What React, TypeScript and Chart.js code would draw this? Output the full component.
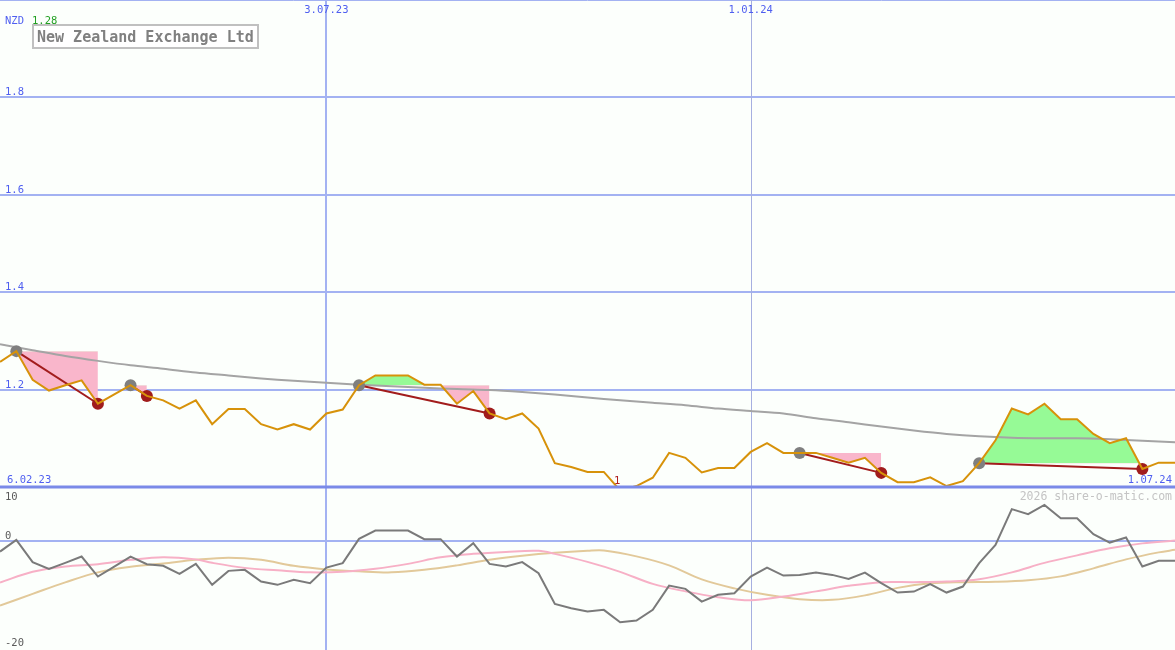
import React, { useEffect, useRef } from 'react';
import { Chart, registerables } from 'chart.js';

Chart.register(...registerables);

// ---------- data (weekly, index 0 = first week shown) ----------
const price = [
  1.257, 1.279, 1.220, 1.198, 1.209, 1.219, 1.171, 1.190, 1.209, 1.187,
  1.178, 1.161, 1.178, 1.129, 1.160, 1.160, 1.129, 1.118, 1.129, 1.118,
  1.151, 1.159, 1.209, 1.229, 1.229, 1.229, 1.210, 1.210, 1.171, 1.197,
  1.151, 1.139, 1.151, 1.120, 1.049, 1.041, 1.031, 1.031, 0.993, 1.002,
  1.019, 1.070, 1.060, 1.030, 1.039, 1.039, 1.072, 1.090, 1.070, 1.070,
  1.070, 1.060, 1.050, 1.060, 1.029, 1.010, 1.010, 1.020, 1.002, 1.012,
  1.049, 1.096, 1.161, 1.149, 1.171, 1.139, 1.139, 1.109, 1.090, 1.100,
  1.037, 1.050, 1.050,
];

const longMaIdx = [0, 2, 4, 6, 8, 10, 12, 14, 16, 18, 20, 22, 24, 26, 28, 30, 32, 34, 36, 38, 40, 42, 44, 46, 48, 50, 52, 54, 56, 58, 60, 62, 64, 66, 68, 70, 72];
const longMaVal = [1.293, 1.281, 1.269, 1.259, 1.250, 1.243, 1.235, 1.229, 1.223, 1.218, 1.214, 1.210, 1.207, 1.204, 1.201, 1.199, 1.195, 1.190, 1.184, 1.178, 1.173, 1.168, 1.161, 1.156, 1.151, 1.141, 1.133, 1.124, 1.116, 1.109, 1.104, 1.101, 1.100, 1.100, 1.098, 1.095, 1.092];

const trendStarts = [1, 8, 22, 49, 60];
const trendEnds = [6, 9, 30, 54, 70];

const oscillator = [
  -2.0, 0.19, -3.98, -5.23, -4.11, -2.93, -6.67, -4.80, -2.93, -4.36,
  -4.67, -6.17, -4.30, -8.22, -5.61, -5.42, -7.61, -8.22, -7.29, -7.91,
  -4.99, -4.17, 0.37, 1.93, 1.93, 1.93, 0.32, 0.32, -2.93, -0.43,
  -4.30, -4.80, -3.98, -6.04, -11.78, -12.58, -13.21, -12.90, -15.20, -14.90,
  -12.90, -8.36, -8.97, -11.35, -10.09, -9.78, -6.67, -4.99, -6.49, -6.36,
  -5.93, -6.36, -7.10, -5.93, -7.91, -9.66, -9.48, -8.09, -9.66, -8.54,
  -4.17, -0.75, 5.93, 4.99, 6.73, 4.24, 4.24, 1.25, -0.32, 0.62,
  -4.80, -3.74, -3.74,
];

const oscPinkIdx = [0, 2, 4, 6, 8, 10, 12, 13, 15, 17, 19, 21, 23, 25, 27, 29, 31, 33, 34, 36, 38, 40, 42, 44, 46, 48, 50, 52, 54, 56, 58, 60, 62, 64, 66, 68, 70, 72];
const oscPinkVal = [-7.79, -5.79, -4.80, -4.36, -3.55, -3.05, -3.46, -4.11, -5.05, -5.51, -5.89, -5.79, -5.23, -4.30, -3.08, -2.43, -2.06, -1.87, -2.43, -3.93, -5.79, -8.04, -9.44, -10.52, -11.12, -10.41, -9.44, -8.41, -7.72, -7.72, -7.61, -7.16, -5.89, -4.11, -2.71, -1.40, -0.47, 0.06];

const oscTanIdx = [0, 2, 4, 6, 8, 10, 12, 14, 16, 18, 20, 22, 24, 26, 28, 30, 32, 34, 36, 37, 39, 41, 43, 45, 47, 49, 51, 53, 55, 57, 59, 61, 63, 65, 67, 69, 71, 72];
const oscTanVal = [-12.09, -9.91, -7.76, -5.89, -4.86, -4.24, -3.55, -3.14, -3.55, -4.67, -5.33, -5.70, -5.89, -5.42, -4.58, -3.55, -2.80, -2.24, -1.87, -1.81, -2.90, -4.58, -7.20, -8.88, -10.09, -10.90, -11.03, -10.19, -8.79, -7.94, -7.72, -7.66, -7.38, -6.64, -5.14, -3.46, -2.15, -1.68];

const priceTicks = [1.2, 1.4, 1.6, 1.8];
const priceTickLabels = ['1.2', '1.4', '1.6', '1.8'];
const oscTicks = [10, 0, -20];
const oscTickLabels = ['10', '0', '-20'];
const dateIdx = [0, 20, 46, 72];
const dateLabels = ['6.02.23', '3.07.23', '1.01.24', '1.07.24'];
const dividendIdx = [38];
const dividendLabels = ['1'];

const title = 'New Zealand Exchange Ltd';
const currency = 'NZD';
const lastPriceLabel = '1.28';
const credit = '2026 share-o-matic.com';

// ---------- styling ----------
const W = 1175;
const H = 650;
const TOP_H = 487;
const BG = '#fcfffc';
const GRID = '#a3b2f2';
const GRID_DARK = '#7a8ae8';
const LABEL_BLUE = '#4f5ff0';
const PRICE_COL = '#d7920a';
const MA_COL = '#a4a4a4';
const TREND_COL = '#a21c1c';
const PINK = '#f9b6cb';
const GREEN = '#96fa96';
const MONO = '"DejaVu Sans Mono", monospace';

export default function App() {
  const ref = useRef<HTMLCanvasElement>(null);

  useEffect(() => {
    const canvas = ref.current;
    if (!canvas) return;

    const topClip = { left: 0, top: 0, right: 0, bottom: -(H - TOP_H) };
    const pts = (idx: number[], vals: number[]) => idx.map((x, k) => ({ x, y: vals[k] }));
    const allIdx = price.map((_, i) => i);

    const datasets: any[] = [];
    // price line on top
    datasets.push({
      data: pts(allIdx, price), yAxisID: 'y', borderColor: PRICE_COL, borderWidth: 2,
      pointRadius: 0, fill: false, order: 0, clip: topClip, tension: 0,
    });
    // start / end dots
    datasets.push({
      data: trendStarts.map((i) => ({ x: i, y: price[i] })), yAxisID: 'y', showLine: false,
      pointRadius: 6, pointBackgroundColor: '#7f7f7f', pointBorderWidth: 0, order: 1,
    });
    datasets.push({
      data: trendEnds.map((i) => ({ x: i, y: price[i] })), yAxisID: 'y', showLine: false,
      pointRadius: 6, pointBackgroundColor: '#a01c1c', pointBorderWidth: 0, order: 1,
    });
    // trend lines
    trendStarts.forEach((s, k) => {
      const e = trendEnds[k];
      datasets.push({
        data: [{ x: s, y: price[s] }, { x: e, y: price[e] }], yAxisID: 'y',
        borderColor: TREND_COL, borderWidth: 2, pointRadius: 0, fill: false, order: 2,
      });
    });
    // long moving average
    datasets.push({
      data: pts(longMaIdx, longMaVal), yAxisID: 'y', borderColor: MA_COL, borderWidth: 2,
      pointRadius: 0, fill: false, order: 3, tension: 0.3, clip: topClip,
    });
    // oscillator panel
    datasets.push({
      data: pts(allIdx, oscillator), yAxisID: 'y2', borderColor: '#7a7a7a', borderWidth: 2,
      pointRadius: 0, fill: false, order: 3,
    });
    datasets.push({
      data: pts(oscPinkIdx, oscPinkVal), yAxisID: 'y2', borderColor: '#f7b0c6', borderWidth: 2,
      pointRadius: 0, fill: false, order: 4, tension: 0.35,
    });
    datasets.push({
      data: pts(oscTanIdx, oscTanVal), yAxisID: 'y2', borderColor: '#e2c99a', borderWidth: 2,
      pointRadius: 0, fill: false, order: 4, tension: 0.35,
    });
    // fills between price and start level
    trendStarts.forEach((s, k) => {
      const e = trendEnds[k];
      const segIdx = allIdx.slice(s, e + 1);
      const levelIndex = datasets.length + 1;
      datasets.push({
        data: segIdx.map((i) => ({ x: i, y: price[i] })), yAxisID: 'y', borderWidth: 0,
        borderColor: 'rgba(0,0,0,0)', pointRadius: 0, order: 6,
        fill: { target: levelIndex, above: GREEN, below: PINK },
      });
      datasets.push({
        data: [{ x: s, y: price[s] }, { x: e, y: price[s] }], yAxisID: 'y', borderWidth: 0,
        borderColor: 'rgba(0,0,0,0)', pointRadius: 0, fill: false, order: 6,
      });
    });

    const panelPlugin = {
      id: 'panels',
      beforeDraw(chart: any) {
        const ctx = chart.ctx;
        ctx.save();
        ctx.fillStyle = BG;
        ctx.fillRect(0, 0, W, H);
        ctx.restore();
      },
      beforeDatasetsDraw(chart: any) {
        const ctx = chart.ctx;
        const xs = chart.scales.x;
        const ys = chart.scales.y;
        const y2 = chart.scales.y2;
        ctx.save();
        const hline = (y: number, w: number, col: string) => {
          ctx.strokeStyle = col;
          ctx.lineWidth = w;
          ctx.beginPath();
          ctx.moveTo(0, y);
          ctx.lineTo(W, y);
          ctx.stroke();
        };
        hline(0.5, 1, GRID);
        priceTicks.forEach((v) => hline(Math.round(ys.getPixelForValue(v)), 2, GRID));
        hline(Math.round(y2.getPixelForValue(0)), 2, GRID);
        // vertical date lines
        const vx1 = Math.round(xs.getPixelForValue(dateIdx[1]));
        ctx.strokeStyle = GRID;
        ctx.lineWidth = 2;
        ctx.beginPath();
        ctx.moveTo(vx1, 0);
        ctx.lineTo(vx1, H);
        ctx.stroke();
        const vx2 = Math.round(xs.getPixelForValue(dateIdx[2])) + 0.5;
        ctx.strokeStyle = '#a6afe0';
        ctx.lineWidth = 1;
        ctx.beginPath();
        ctx.moveTo(vx2, 0);
        ctx.lineTo(vx2, H);
        ctx.stroke();
        ctx.restore();
      },
      afterDatasetsDraw(chart: any) {
        const ctx = chart.ctx;
        const xs = chart.scales.x;
        const ys = chart.scales.y;
        const y2 = chart.scales.y2;
        ctx.save();
        // panel divider
        ctx.strokeStyle = GRID_DARK;
        ctx.lineWidth = 3;
        ctx.beginPath();
        ctx.moveTo(0, TOP_H);
        ctx.lineTo(W, TOP_H);
        ctx.stroke();

        ctx.textBaseline = 'alphabetic';
        ctx.font = `10.5px ${MONO}`;
        // price tick labels
        ctx.fillStyle = LABEL_BLUE;
        ctx.textAlign = 'left';
        priceTicks.forEach((v, k) => {
          ctx.fillText(priceTickLabels[k], 5, Math.round(ys.getPixelForValue(v)) - 2);
        });
        // currency + last price
        ctx.fillText(currency, 5, 24);
        ctx.fillStyle = '#22a022';
        ctx.fillText(lastPriceLabel, 32, 24);
        // dates
        ctx.fillStyle = LABEL_BLUE;
        ctx.textAlign = 'left';
        ctx.fillText(dateLabels[0], 7, 483);
        ctx.textAlign = 'center';
        ctx.fillText(dateLabels[1], xs.getPixelForValue(dateIdx[1]), 13);
        ctx.fillText(dateLabels[2], xs.getPixelForValue(dateIdx[2]), 13);
        ctx.textAlign = 'right';
        ctx.fillText(dateLabels[3], W - 3, 483);
        // dividend marker
        ctx.fillStyle = '#b02020';
        ctx.textAlign = 'center';
        dividendIdx.forEach((i, k) => {
          ctx.fillText(dividendLabels[k], xs.getPixelForValue(i) - 3, 484);
        });
        // oscillator labels
        ctx.fillStyle = '#5a5a5a';
        ctx.textAlign = 'left';
        ctx.fillText(oscTickLabels[0], 5, Math.round(y2.getPixelForValue(oscTicks[0])) + 13);
        ctx.fillText(oscTickLabels[1], 5, Math.round(y2.getPixelForValue(oscTicks[1])) - 2);
        ctx.fillText(oscTickLabels[2], 5, Math.round(y2.getPixelForValue(oscTicks[2])) - 2);
        // credit
        ctx.font = `11.5px ${MONO}`;
        ctx.fillStyle = '#c4c4c4';
        ctx.textAlign = 'right';
        ctx.fillText(credit, 1172, 500);
        // title box
        ctx.fillStyle = '#ffffff';
        ctx.fillRect(33, 25, 225, 23);
        ctx.strokeStyle = '#c0c0c0';
        ctx.lineWidth = 2;
        ctx.strokeRect(33, 25, 225, 23);
        ctx.fillStyle = '#808080';
        ctx.font = `bold 15px ${MONO}`;
        ctx.textAlign = 'left';
        ctx.fillText(title, 37, 42);
        ctx.restore();
      },
    };

    const chart = new Chart(canvas, {
      type: 'line',
      data: { datasets },
      options: {
        animation: false,
        responsive: false,
        maintainAspectRatio: false,
        layout: { padding: 0, autoPadding: false },
        plugins: { legend: { display: false }, tooltip: { enabled: false }, title: { display: false } },
        scales: {
          x: { type: 'linear', min: 0, max: price.length - 1, display: false },
          y: { type: 'linear', min: 2 - H / TOP_H, max: 2, display: false },
          y2: { type: 'linear', min: -20.4, max: 101.1, display: false },
        },
      } as any,
      plugins: [panelPlugin as any],
    });
    return () => chart.destroy();
  }, []);

  return (
    <div style={{ position: 'absolute', left: 0, top: 0, width: W, height: H, background: BG }}>
      <canvas ref={ref} width={W} height={H} style={{ display: 'block', width: W, height: H }} />
    </div>
  );
}
